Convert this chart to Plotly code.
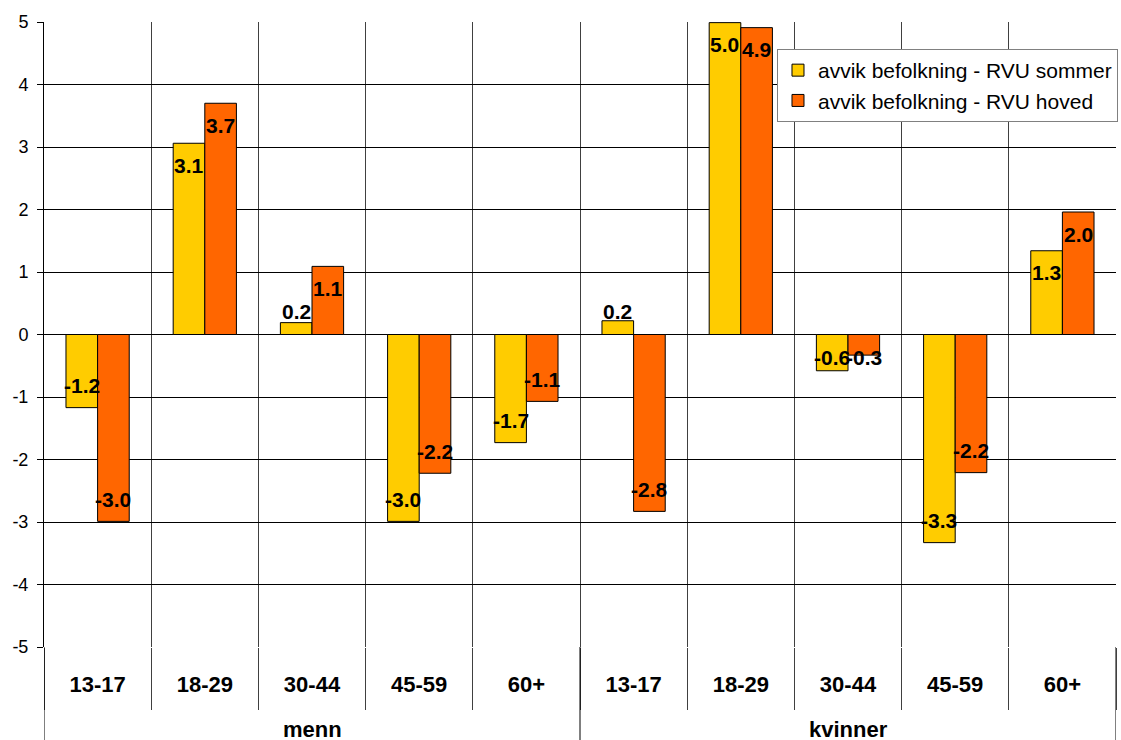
import plotly.graph_objects as go

# Age groups within each sex, and the two sexes
ages = ["13-17", "18-29", "30-44", "45-59", "60+"]
groups = ["menn", "kvinner"]
series_names = ["avvik befolkning - RVU sommer", "avvik befolkning - RVU hoved"]

# Deviation (percentage points) per age group, menn first then kvinner
sommer = [-1.17, 3.06, 0.19, -2.99, -1.73, 0.22, 4.99, -0.58, -3.33, 1.34]
hoved = [-2.99, 3.70, 1.09, -2.22, -1.07, -2.83, 4.91, -0.33, -2.21, 1.96]

y_ticks = [-5, -4, -3, -2, -1, 0, 1, 2, 3, 4, 5]
y_tick_labels = ["-5", "-4", "-3", "-2", "-1", "0", "1", "2", "3", "4", "5"]

colors = ["#FFCC00", "#FF6600"]
FONT = "Liberation Sans, Arial, sans-serif"

W, H = 1121, 740
M_L, M_R, M_T, M_B = 44, 3, 22, 93
BARGAP = 0.41
plot_w = W - M_L - M_R
plot_h = H - M_T - M_B
px_per_unit = plot_h / (y_ticks[-1] - y_ticks[0])

n_cat = len(ages) * len(groups)
xs = list(range(n_cat))
cat_labels = ages * len(groups)

fig = go.Figure()
for name, vals, col in zip(series_names, [sommer, hoved], colors):
    fig.add_trace(go.Bar(
        x=xs, y=vals, name=name,
        marker=dict(color=col, line=dict(color="black", width=1)),
        hoverinfo="y+name",
    ))


def label_y(v):
    # value label sits just inside the bar end, or clear of the zero line for short bars
    inset = 22 / px_per_unit
    min_dist = 23 / px_per_unit
    s = 1 if v >= 0 else -1
    return s * max(abs(v) - inset, min_dist)


half = (1 - BARGAP) / 4
annotations = []
for k, vals in enumerate([sommer, hoved]):
    dx = -half if k == 0 else half
    for i, v in enumerate(vals):
        annotations.append(dict(
            x=i + dx, y=label_y(v), xref="x", yref="y",
            text=f"{v:.1f}", showarrow=False,
            xanchor="center", yanchor="middle",
            font=dict(family=FONT, size=21, color="black", weight=700),
        ))

# sex labels under the age-group row
for g, name in enumerate(groups):
    center = g * len(ages) + (len(ages) - 1) / 2
    annotations.append(dict(
        x=center, y=-(729 - (H - M_B)) / plot_h, xref="x", yref="paper",
        text=name, showarrow=False, xanchor="center", yanchor="middle",
        font=dict(family=FONT, size=22, color="black", weight=700),
    ))

# group dividers reaching down through the category label rows
shapes = []
for g in range(len(groups) + 1):
    b = g * len(ages) - 0.5
    shapes.append(dict(
        type="line", xref="x", yref="paper", x0=b, x1=b, y0=0, y1=-0.3,
        line=dict(color="black", width=1),
    ))

fig.update_layout(
    width=W, height=H,
    margin=dict(l=M_L, r=M_R, t=M_T, b=M_B, pad=0),
    paper_bgcolor="white", plot_bgcolor="white",
    barmode="group", bargap=BARGAP, bargroupgap=0,
    font=dict(family=FONT, size=18, color="black"),
    annotations=annotations, shapes=shapes,
    legend=dict(
        x=1 + 2 / plot_w, xanchor="right",
        y=1 - 27 / plot_h, yanchor="top",
        bgcolor="white", bordercolor="#808080", borderwidth=1,
        font=dict(family=FONT, size=21, color="black"),
        traceorder="normal",
    ),
    xaxis=dict(
        range=[-0.5, n_cat - 0.5],
        tickmode="array", tickvals=xs, ticktext=cat_labels,
        ticks="", showgrid=False, showline=False, zeroline=False,
        tickfont=dict(family=FONT, size=22, color="black", weight=700),
        ticklabelstandoff=22,
        minor=dict(
            tickmode="array", tickvals=[i - 0.5 for i in range(n_cat + 1)],
            showgrid=True, gridcolor="#404040", gridwidth=1,
            ticks="outside", ticklen=62, tickcolor="#404040", tickwidth=1,
        ),
    ),
    yaxis=dict(
        range=[y_ticks[0], y_ticks[-1]],
        tickmode="array", tickvals=y_ticks, ticktext=y_tick_labels,
        showgrid=True, gridcolor="black", gridwidth=1,
        zeroline=False, showline=True, linecolor="black", linewidth=1,
        ticks="outside", ticklen=6, tickcolor="black",
        tickfont=dict(family=FONT, size=18, color="black"),
        ticklabelstandoff=5,
    ),
)

fig.write_html("out.html")
